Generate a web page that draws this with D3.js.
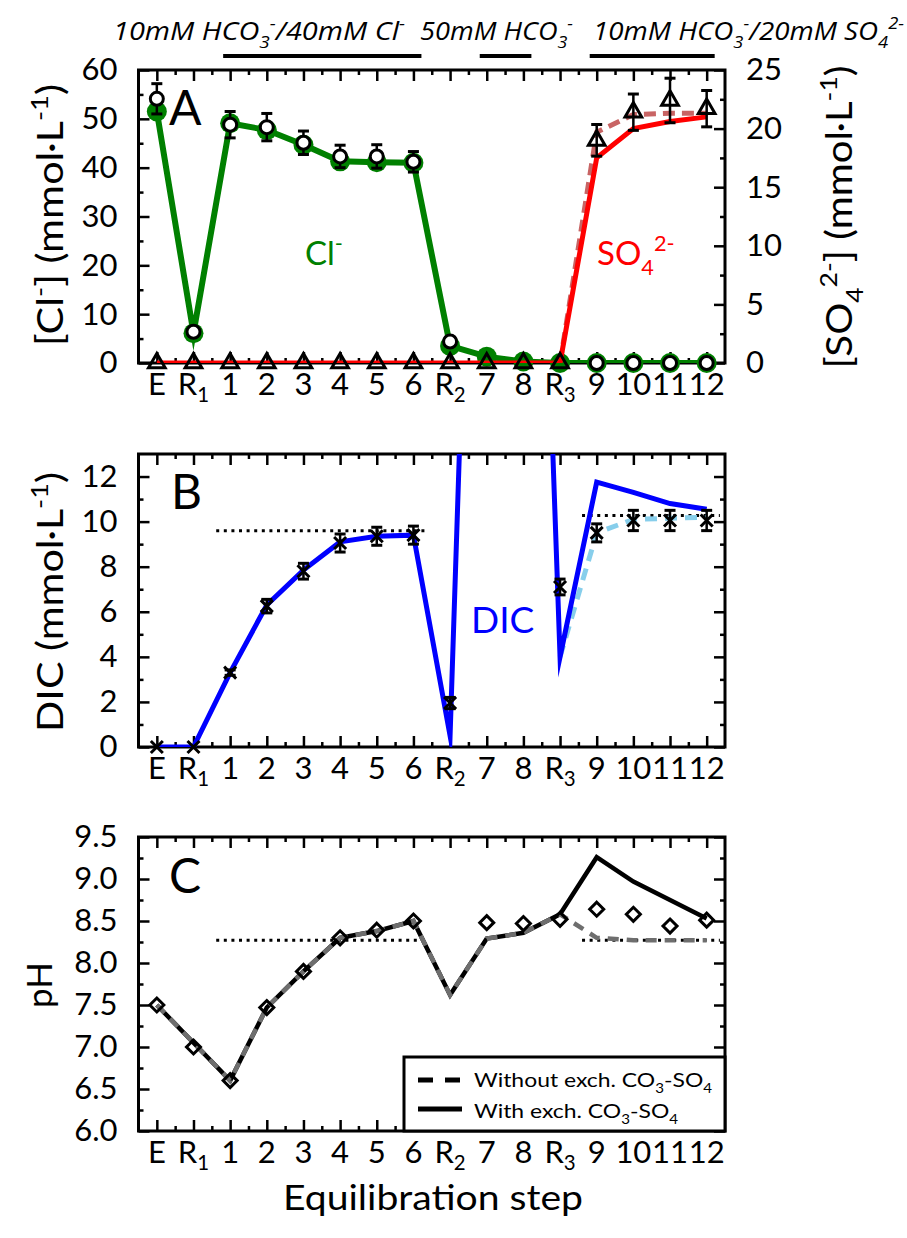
<!DOCTYPE html>
<html><head><meta charset="utf-8">
<script src="https://cdn.jsdelivr.net/npm/d3@7"></script>
<style>body{margin:0;background:#fff}svg{display:block}</style>
</head><body><svg id="c" width="907" height="1238"></svg>
<script>
// ---------- data ----------
const steps = ["E","R1","1","2","3","4","5","6","R2","7","8","R3","9","10","11","12"];
// Panel A (Cl- left axis, SO4 2- right axis)
const clModel    = [51.5, 6.1, 49.1, 47.7, 44.7, 41.3, 41.1, 41.0, 3.5, 1.3, 0.3, 0, 0, 0, 0, 0];
const clMeas     = [54.1, 6.4, 48.8, 48.3, 45.1, 42.3, 42.3, 41.2, 4.4, null, null, null, 0, 0, 0, 0];
const clErr      = [3.1, 0, 2.7, 2.8, 2.4, 2.3, 2.4, 2.1, 0, null, null, null, 0, 0, 0, 0];
const so4With    = [0, 0, 0, 0, 0, 0, 0, 0, 0, 0, 0, 0, 17.5, 20.0, 20.6, 21.0];
const so4Without = [null, null, null, null, null, null, null, null, null, null, null, 0, 19.7, 21.2, 21.3, 21.3];
const so4Meas    = [0, 0, 0, 0, 0, 0, 0, 0, 0, 0, 0, 0, 19.0, 21.4, 22.4, 21.7];
const so4Err     = [0, 0, 0, 0, 0, 0, 0, 0, 0, 0, 0, 0, 1.35, 1.55, 1.9, 1.55];
// Panel B (DIC)
const dicWith    = [0, 0, 3.3, 6.3, 7.85, 9.1, 9.35, 9.4, 0.5, 50, 50, 4.0, 11.75, 11.3, 10.8, 10.55];
const dicWithout = [null, null, null, null, null, null, null, null, null, null, null, 4.0, 9.5, 10.1, 10.15, 10.2];
const dicMeas    = [0, 0, 3.3, 6.25, 7.8, 9.05, 9.35, 9.4, 1.95, null, null, 7.1, 9.5, 10.05, 10.05, 10.05];
const dicErr     = [0, 0, 0.12, 0.3, 0.35, 0.4, 0.4, 0.4, 0.25, null, null, 0.35, 0.4, 0.45, 0.45, 0.45];
const dicRef     = [{x0: 1.62, x1: 7.37, v: 9.6}, {x0: 11.6, x1: 15.36, v: 10.27}];
// Panel C (pH)
const phMeas     = [7.5, 7.0, 6.6, 7.47, 7.9, 8.3, 8.39, 8.5, null, 8.48, 8.47, 8.52, 8.64, 8.58, 8.44, 8.51];
const phWith     = [7.5, 7.05, 6.6, 7.47, 7.9, 8.3, 8.38, 8.5, 7.62, 8.29, 8.36, 8.58, 9.26, 8.97, 8.75, 8.53];
const phWithout  = [7.5, 7.05, 6.6, 7.47, 7.9, 8.3, 8.38, 8.5, 7.62, 8.29, 8.36, 8.58, 8.3, 8.27, 8.27, 8.27];
const phRef      = [{x0: 1.62, x1: 7.37, v: 8.27}, {x0: 11.6, x1: 15.36, v: 8.27}];
// Solution bars on top
const solutions = [
  {from: 2, to: 7, x: 113, len: 292, segs: [["10mM HCO","n"],["3","sub"],["-","sup"],["/40mM Cl","n"],["-","sup"]]},
  {from: 9, to: 10, x: 420, len: 153, segs: [["50mM HCO","n"],["3","sub"],["-","sup"]]},
  {from: 12, to: 15, x: 593, len: 311, segs: [["10mM HCO","n"],["3","sub"],["-","sup"],["/20mM SO","n"],["4","sub"],["2-","sup"]]}
];
const yTicksA = [0,10,20,30,40,50,60], yTicksAr = [0,5,10,15,20,25];
const yTicksB = [0,2,4,6,8,10,12], yTicksC = [6,6.5,7,7.5,8,8.5,9,9.5];

// ---------- setup ----------
const FONT = "Lato, 'Open Sans', sans-serif";
const TF = 31;
const svg = d3.select('#c');
const idx = d3.range(steps.length);
const x = d3.scaleLinear().domain([-0.5, 15.5]).range([138.5, 725]);
const L = 138.5, R = 725;
const P = {A: [70, 363], B: [454, 747], C: [837, 1131]};
const yA = d3.scaleLinear().domain([0, 60]).range([P.A[1], P.A[0]]);
const yAr = d3.scaleLinear().domain([0, 25]).range([P.A[1], P.A[0]]);
const yB = d3.scaleLinear().domain([0, 13]).range([P.B[1], P.B[0]]);
const yC = d3.scaleLinear().domain([6, 9.5]).range([P.C[1], P.C[0]]);

function rich(sel, segs, fs, subK) {
  let shift = 0;
  segs.forEach(([t, kind]) => {
    let target = 0;
    if (kind === 'sub') target = fs * (subK || 0.3);
    if (kind === 'sup') target = -fs * 0.42;
    const ts = sel.append('tspan').text(t).attr('dy', target - shift);
    if (kind !== 'n') ts.attr('font-size', fs * 0.66);
    shift = target;
  });
}

const defs = svg.append('defs');
Object.entries(P).forEach(([k, [t, b]]) => {
  defs.append('clipPath').attr('id', 'clip' + k).append('rect')
    .attr('x', L).attr('y', t).attr('width', R - L).attr('height', b - t);
});

function styleAxis(sel) {
  sel.select('.domain').remove();
  sel.selectAll('line').attr('stroke', '#000').attr('stroke-width', 2.5);
  sel.attr('font-family', FONT).attr('font-size', TF);
  sel.selectAll('text').attr('fill', '#000');
}
const mids = idx.slice(0, -1).map(i => i + 0.5);
function half(arr) { return arr.slice(0, -1).map((v, i) => (v + arr[i + 1]) / 2); }

function panelAxes(key, y, maj, fmt, yr, rmaj) {
  const [top, bottom] = P[key];
  const g = svg.append('g');
  g.append('g').attr('transform', `translate(0,${bottom})`).call(d3.axisBottom(x).tickValues(idx).tickSize(-11).tickFormat('')).call(styleAxis);
  g.append('g').attr('transform', `translate(0,${bottom})`).call(d3.axisBottom(x).tickValues(mids).tickSize(-5).tickFormat('')).call(styleAxis);
  g.append('g').attr('transform', `translate(0,${top})`).call(d3.axisTop(x).tickValues(idx).tickSize(-11).tickFormat('')).call(styleAxis);
  g.append('g').attr('transform', `translate(0,${top})`).call(d3.axisTop(x).tickValues(mids).tickSize(-5).tickFormat('')).call(styleAxis);
  g.append('g').attr('transform', `translate(${L},0)`).call(d3.axisLeft(y).tickValues(maj).tickSize(-11).tickPadding(21).tickFormat(fmt)).call(styleAxis);
  g.append('g').attr('transform', `translate(${L},0)`).call(d3.axisLeft(y).tickValues(half(maj)).tickSize(-5).tickFormat('')).call(styleAxis);
  if (yr) {
    g.append('g').attr('transform', `translate(${R},0)`).call(d3.axisRight(yr).tickValues(rmaj).tickSize(-11).tickPadding(21).tickFormat(d3.format('d'))).call(styleAxis);
    g.append('g').attr('transform', `translate(${R},0)`).call(d3.axisRight(yr).tickValues(half(rmaj)).tickSize(-5).tickFormat('')).call(styleAxis);
  } else {
    g.append('g').attr('transform', `translate(${R},0)`).call(d3.axisRight(y).tickValues(maj).tickSize(-11).tickFormat('')).call(styleAxis);
    g.append('g').attr('transform', `translate(${R},0)`).call(d3.axisRight(y).tickValues(half(maj)).tickSize(-5).tickFormat('')).call(styleAxis);
  }
  g.append('rect').attr('x', L).attr('y', top).attr('width', R - L).attr('height', bottom - top)
    .attr('fill', 'none').attr('stroke', '#000').attr('stroke-width', 3);
  // category labels
  const lab = g.append('g').attr('font-family', FONT).attr('font-size', TF).attr('text-anchor', 'middle');
  steps.forEach((s, i) => {
    const t = lab.append('text').attr('x', x(i)).attr('y', bottom + 32);
    if (s[0] === 'R') rich(t, [[s[0], 'n'], [s.slice(1), 'sub']], TF, 0.24);
    else t.text(s);
  });
}

function linePath(vals, y) {
  return d3.line().defined(d => d != null).x((d, i) => x(i)).y(d => y(d))(vals);
}
function drawLine(key, vals, y, color, w, dash) {
  const p = svg.append('path').attr('clip-path', `url(#clip${key})`).attr('d', linePath(vals, y))
    .attr('fill', 'none').attr('stroke', color).attr('stroke-width', w)
    .attr('stroke-linejoin', 'miter').attr('stroke-miterlimit', 12);
  if (dash) p.attr('stroke-dasharray', dash);
  return p;
}
function errBars(vals, errs, y) {
  const g = svg.append('g').attr('stroke', '#000').attr('stroke-width', 2.5);
  vals.forEach((v, i) => {
    const e = errs[i];
    if (v == null || !e) return;
    g.append('line').attr('x1', x(i)).attr('x2', x(i)).attr('y1', y(v - e)).attr('y2', y(v + e));
    [v - e, v + e].forEach(w => g.append('line').attr('x1', x(i) - 5.5).attr('x2', x(i) + 5.5).attr('y1', y(w)).attr('y2', y(w)).attr('stroke-width', 3));
  });
}
function refLines(key, refs, y) {
  refs.forEach(r => svg.append('line').attr('x1', x(r.x0)).attr('x2', x(r.x1)).attr('y1', y(r.v)).attr('y2', y(r.v))
    .attr('stroke', '#000').attr('stroke-width', 3).attr('stroke-dasharray', '3,4.6'));
}

// ---------- top solution labels ----------
solutions.forEach(s => {
  const t = svg.append('text').attr('x', s.x).attr('y', 40)
    .attr('font-family', "'Liberation Sans Narrow', 'Open Sans', sans-serif").attr('font-style', 'italic')
    .attr('font-size', 26).attr('textLength', s.len).attr('lengthAdjust', 'spacingAndGlyphs');
  rich(t, s.segs, 26);
  svg.append('line').attr('x1', x(s.from) - 7).attr('x2', x(s.to) + 8).attr('y1', 56).attr('y2', 56)
    .attr('stroke', '#000').attr('stroke-width', 4);
});

// ---------- Panel A ----------
panelAxes('A', yA, yTicksA, d3.format('d'), yAr, yTicksAr);
drawLine('A', so4Without, yAr, '#c86464', 5, '12,7');
drawLine('A', clModel, yA, '#008000', 6);
svg.append('g').selectAll('circle').data(clModel).join('circle')
  .attr('cx', (d, i) => x(i)).attr('cy', d => yA(d)).attr('r', 10).attr('fill', '#008000');
drawLine('A', so4With, yAr, '#ff0000', 5);
errBars(clMeas, clErr, yA);
errBars(so4Meas, so4Err, yAr);
svg.append('g').selectAll('circle').data(clMeas.map((v, i) => [v, i]).filter(d => d[0] != null)).join('circle')
  .attr('cx', d => x(d[1])).attr('cy', d => yA(d[0])).attr('r', 6.5)
  .attr('fill', '#fff').attr('stroke', '#000').attr('stroke-width', 3);
svg.append('g').selectAll('path').data(so4Meas).join('path')
  .attr('d', d3.symbol(d3.symbolTriangle, 120))
  .attr('transform', (d, i) => `translate(${x(i)},${yAr(d)})`)
  .attr('fill', 'none').attr('stroke', '#000').attr('stroke-width', 3);
svg.append('text').attr('x', 169).attr('y', 125).attr('font-family', FONT).attr('font-size', 48).text('A');
rich(svg.append('text').attr('x', 305).attr('y', 265).attr('font-family', FONT).attr('font-size', 33).attr('fill', '#008000'),
  [['Cl', 'n'], ['-', 'sup']], 33);
rich(svg.append('text').attr('x', 597).attr('y', 265).attr('font-family', FONT).attr('font-size', 33).attr('fill', '#ff0000'),
  [['SO', 'n'], ['4', 'sub'], ['2-', 'sup']], 33);

// ---------- Panel B ----------
panelAxes('B', yB, yTicksB, d3.format('d'));
refLines('B', dicRef, yB);
drawLine('B', dicWithout, yB, '#87ceeb', 5, '12,8');
drawLine('B', dicWith, yB, '#0000ff', 5);
errBars(dicMeas, dicErr, yB);
svg.append('g').selectAll('path').data(dicMeas.map((v, i) => [v, i]).filter(d => d[0] != null)).join('path')
  .attr('d', 'M-6,-6L6,6M-6,6L6,-6')
  .attr('transform', d => `translate(${x(d[1])},${yB(d[0])})`)
  .attr('fill', 'none').attr('stroke', '#000').attr('stroke-width', 3);
svg.append('text').attr('x', 171).attr('y', 509).attr('font-family', FONT).attr('font-size', 48).text('B');
svg.append('text').attr('x', 471).attr('y', 633).attr('font-family', FONT).attr('font-size', 37).attr('fill', '#0000ff').text('DIC');

// ---------- Panel C ----------
panelAxes('C', yC, yTicksC, d3.format('.1f'));
refLines('C', phRef, yC);
drawLine('C', phWith, yC, '#000', 4.5);
drawLine('C', phWithout, yC, '#6e6e6e', 4.5, '11,8');
svg.append('g').selectAll('path').data(phMeas.map((v, i) => [v, i]).filter(d => d[0] != null)).join('path')
  .attr('d', 'M0,-7L7,0L0,7L-7,0Z')
  .attr('transform', d => `translate(${x(d[1])},${yC(d[0])})`)
  .attr('fill', 'none').attr('stroke', '#000').attr('stroke-width', 3);
svg.append('text').attr('x', 169).attr('y', 893).attr('font-family', FONT).attr('font-size', 48).text('C');
// legend
const lg = svg.append('g');
lg.append('rect').attr('x', 404).attr('y', 1057).attr('width', R - 404).attr('height', 1131 - 1057)
  .attr('fill', '#fff').attr('stroke', '#000').attr('stroke-width', 3);
lg.append('line').attr('x1', 418).attr('x2', 462).attr('y1', 1080).attr('y2', 1080)
  .attr('stroke', '#000').attr('stroke-width', 5).attr('stroke-dasharray', '15,12');
lg.append('line').attr('x1', 418).attr('x2', 462).attr('y1', 1109).attr('y2', 1109)
  .attr('stroke', '#000').attr('stroke-width', 5);
rich(lg.append('text').attr('x', 474).attr('y', 1087).attr('font-family', FONT).attr('font-size', 20)
  .attr('textLength', 238).attr('lengthAdjust', 'spacingAndGlyphs'),
  [['Without exch. CO', 'n'], ['3', 'sub'], ['-SO', 'n'], ['4', 'sub']], 20);
rich(lg.append('text').attr('x', 474).attr('y', 1118).attr('font-family', FONT).attr('font-size', 20)
  .attr('textLength', 204).attr('lengthAdjust', 'spacingAndGlyphs'),
  [['With exch. CO', 'n'], ['3', 'sub'], ['-SO', 'n'], ['4', 'sub']], 20);

// ---------- axis titles ----------
function vTitle(cx, cy, segs, fs, len) {
  const t = svg.append('text').attr('transform', `translate(${cx},${cy}) rotate(-90)`)
    .attr('text-anchor', 'middle').attr('font-family', FONT).attr('font-size', fs);
  if (len) t.attr('textLength', len).attr('lengthAdjust', 'spacingAndGlyphs');
  rich(t, segs, fs);
}
vTitle(63, 215, [['[Cl', 'n'], ['-', 'sup'], ['] (mmol·L', 'n'], ['-1', 'sup'], [')', 'n']], 36, 262);
vTitle(852, 217, [['[SO', 'n'], ['4', 'sub'], ['2-', 'sup'], ['] (mmol·L', 'n'], ['-1', 'sup'], [')', 'n']], 36, 303);
vTitle(63, 602, [['DIC (mmol·L', 'n'], ['-1', 'sup'], [')', 'n']], 36, 260);
vTitle(52, 985, [['pH', 'n']], 35);
svg.append('text').attr('x', 433).attr('y', 1210).attr('text-anchor', 'middle')
  .attr('font-family', FONT).attr('font-size', 34).attr('textLength', 300).attr('lengthAdjust', 'spacingAndGlyphs')
  .text('Equilibration step');
</script></body></html>
